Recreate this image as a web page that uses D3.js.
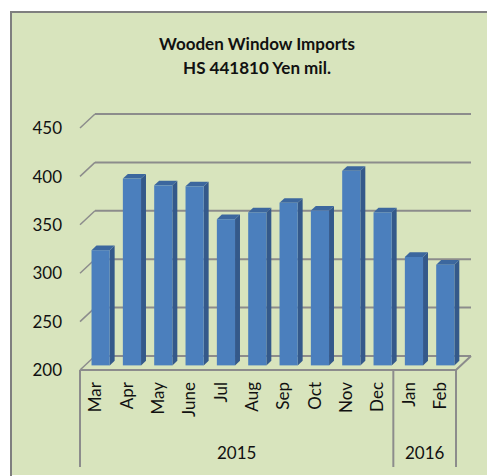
<!DOCTYPE html>
<html>
<head>
<meta charset="utf-8">
<script src="https://cdn.jsdelivr.net/npm/d3@7/dist/d3.min.js"></script>
<style>
  html, body { margin: 0; padding: 0; background: #ffffff; }
  svg { display: block; }
  text { font-family: Lato, "Open Sans", sans-serif; fill: #111; }
</style>
</head>
<body>
<svg id="chart" width="487" height="476"></svg>
<script>
const months = ["Mar","Apr","May","June","Jul","Aug","Sep","Oct","Nov","Dec","Jan","Feb"];
const values = [319, 393, 386, 385, 351, 358, 368, 360, 401, 358, 312, 304];
const years = [{label: "2015", first: "Mar", last: "Dec"}, {label: "2016", first: "Jan", last: "Feb"}];
const yTicks = [200, 250, 300, 350, 400, 450];
const titleLines = ["Wooden Window Imports", "HS 441810 Yen mil."];

const svg = d3.select("#chart");

// frame
svg.append("rect").attr("x", 11).attr("y", 12).attr("width", 490).attr("height", 463)
  .attr("fill", "#d8e4bd");
svg.append("path").attr("d", "M11,476 L11,12 L490,12")
  .attr("fill", "none").attr("stroke", "#7f7f7f").attr("stroke-width", 2);

// title
svg.selectAll("text.title").data(titleLines).join("text")
  .attr("class", "title")
  .attr("x", 257).attr("y", (d, i) => 50 + i * 23.5)
  .attr("text-anchor", "middle")
  .attr("font-weight", "bold").attr("font-size", 17)
  .text(d => d);

const left = 80, right = 456;
const depthX = 15, depthY = -14;
const x = d3.scaleBand().domain(months).range([left, right]).paddingInner(0.42).paddingOuter(0.21);
const y = d3.scaleLinear().domain([200, 450]).range([370, 128]);

const gridColor = "#8c8c8c";
const g = svg.append("g");

// back gridlines + left stubs
yTicks.forEach(v => {
  g.append("line").attr("x1", left + depthX).attr("x2", right + depthX)
    .attr("y1", y(v) + depthY).attr("y2", y(v) + depthY)
    .attr("stroke", gridColor).attr("stroke-width", 2);
  g.append("line").attr("x1", left).attr("x2", left + depthX)
    .attr("y1", y(v)).attr("y2", y(v) + depthY)
    .attr("stroke", gridColor).attr("stroke-width", 1.5);
});
// floor front and right side
g.append("path")
  .attr("d", `M${left},${y(200)} L${right},${y(200)} L${right + depthX},${y(200) + depthY}`)
  .attr("fill", "none").attr("stroke", gridColor).attr("stroke-width", 2);

// y labels
svg.selectAll("text.ytick").data(yTicks).join("text")
  .attr("class", "ytick")
  .attr("x", 62).attr("y", d => y(d)).attr("dy", "0.36em")
  .attr("text-anchor", "end").attr("font-size", 17)
  .text(d => d);

// bars
const t0 = 0.33, t1 = 0.66;
const fx = depthX * t0, fy = depthY * t0;
const bx = depthX * (t1 - t0), by = depthY * (t1 - t0);
const bars = svg.append("g").selectAll("g").data(months.map((m, i) => ({m, v: values[i]}))).join("g");
bars.each(function(d) {
  const gg = d3.select(this);
  const x0 = x(d.m) + fx, w = x.bandwidth();
  const yt = y(d.v) + fy, yb = y(200) + fy;
  // side
  gg.append("path")
    .attr("d", `M${x0 + w},${yt} L${x0 + w + bx},${yt + by} L${x0 + w + bx},${yb + by} L${x0 + w},${yb} Z`)
    .attr("fill", "#34598a");
  // top
  gg.append("path")
    .attr("d", `M${x0},${yt} L${x0 + bx},${yt + by} L${x0 + w + bx},${yt + by} L${x0 + w},${yt} Z`)
    .attr("fill", "#3c679e");
  // front
  gg.append("rect").attr("x", x0).attr("y", yt).attr("width", w).attr("height", yb - yt)
    .attr("fill", "#4b7fbd");
});

// category axis
const step = x.step();
const bounds = [left];
years.forEach(yr => bounds.push(left + (months.indexOf(yr.last) + 1) * step));
bounds.forEach(bx0 => {
  svg.append("line").attr("x1", bx0).attr("x2", bx0).attr("y1", y(200)).attr("y2", 467)
    .attr("stroke", gridColor).attr("stroke-width", 2);
});

svg.selectAll("text.month").data(months).join("text")
  .attr("class", "month")
  .attr("transform", d => `translate(${x(d) + x.bandwidth() / 2 - 0.5},382) rotate(-90)`)
  .attr("dy", "0.36em")
  .attr("text-anchor", "end").attr("font-size", 17)
  .text(d => d);

svg.selectAll("text.year").data(years).join("text")
  .attr("class", "year")
  .attr("x", d => left + (months.indexOf(d.first) + (months.indexOf(d.last) + 1)) / 2 * step)
  .attr("y", 459)
  .attr("text-anchor", "middle").attr("font-size", 17)
  .text(d => d.label);
</script>
</body>
</html>
